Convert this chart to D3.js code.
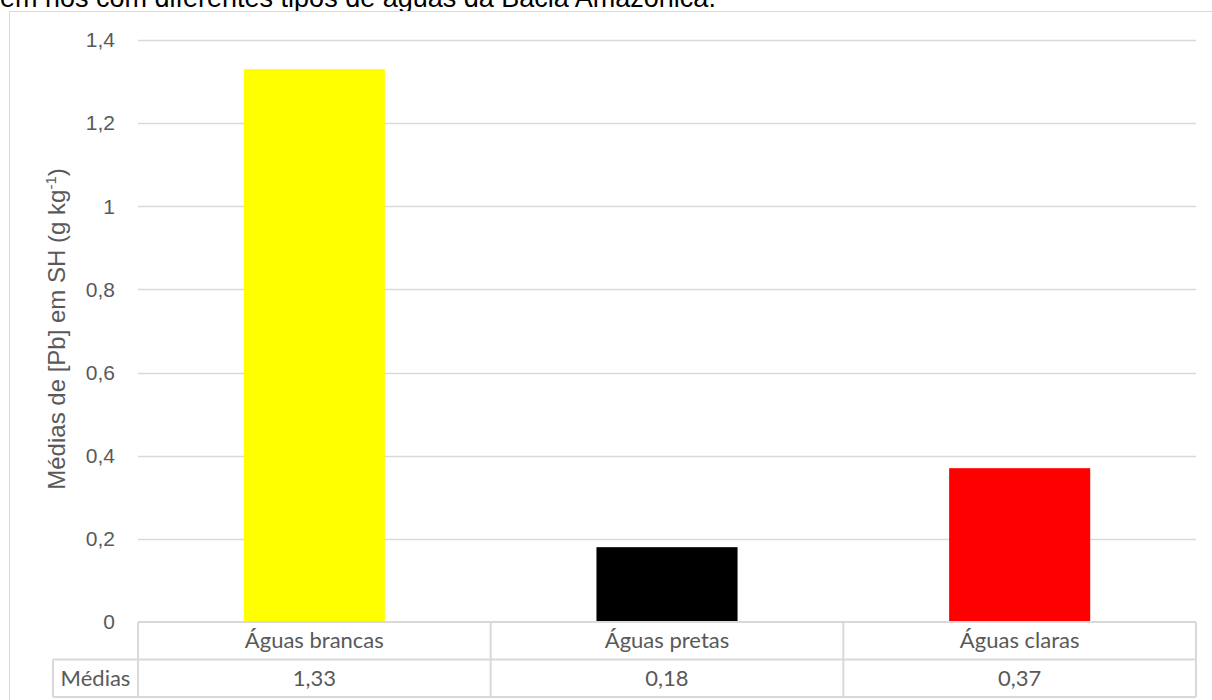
<!DOCTYPE html>
<html>
<head>
<meta charset="utf-8">
<script src="https://cdn.jsdelivr.net/npm/d3@7"></script>
<style>
  html, body { margin: 0; padding: 0; background: #fff; }
  svg { display: block; }
</style>
</head>
<body>
<svg id="chart" width="1212" height="700"></svg>
<script>
// Mean Pb concentration in humic substances by river water type
const categories = ["Águas brancas", "Águas pretas", "Águas claras"];
const values = [1.33, 0.18, 0.37];
const valueLabels = ["1,33", "0,18", "0,37"];
const barColors = ["#ffff00", "#000000", "#ff0000"];
const yTicks = [0, 0.2, 0.4, 0.6, 0.8, 1, 1.2, 1.4];
const yTickLabels = ["0", "0,2", "0,4", "0,6", "0,8", "1", "1,2", "1,4"];
const rowLabel = "Médias";
const caption = "em rios com diferentes tipos de águas da Bacia Amazônica.";

const svg = d3.select("#chart");
const gridColor = "#d9d9d9";
const textColor = "#595959";
const tableFont = "Lato, 'Open Sans', sans-serif";
const sansFont = "'Liberation Sans', Arial, sans-serif";

// caption line (cropped at the top edge)
svg.append("text")
  .attr("x", 0).attr("y", 7)
  .attr("font-family", sansFont)
  .attr("font-size", 27)
  .attr("fill", "#000")
  .text(caption);

// chart frame
svg.append("rect")
  .attr("x", 9.5).attr("y", 11.5)
  .attr("width", 1240).attr("height", 720)
  .attr("fill", "#fff")
  .attr("stroke", gridColor)
  .attr("stroke-width", 1);

const plot = { left: 138, right: 1196, top: 40, bottom: 622 };

const x = d3.scaleBand()
  .domain(categories)
  .range([plot.left, plot.right])
  .paddingInner(0)
  .paddingOuter(0);

const y = d3.scaleLinear()
  .domain([0, 1.4])
  .range([plot.bottom, plot.top]);

// horizontal gridlines
svg.append("g")
  .selectAll("line")
  .data(yTicks.filter(d => d > 0))
  .join("line")
  .attr("x1", plot.left).attr("x2", plot.right)
  .attr("y1", d => Math.round(y(d)) + 0.5)
  .attr("y2", d => Math.round(y(d)) + 0.5)
  .attr("stroke", gridColor)
  .attr("stroke-width", 1.5);

// y axis tick labels
const yAxis = d3.axisLeft(y)
  .tickValues(yTicks)
  .tickFormat((d, i) => yTickLabels[i])
  .tickSize(0)
  .tickPadding(23);
const yg = svg.append("g")
  .attr("transform", `translate(${plot.left},0)`)
  .call(yAxis);
yg.select(".domain").remove();
yg.selectAll("text")
  .attr("font-family", sansFont)
  .attr("font-size", 21)
  .attr("fill", textColor);

// y axis title
const yTitle = svg.append("text")
  .attr("transform", `translate(65,${(plot.top + plot.bottom) / 2 - 2}) rotate(-90)`)
  .attr("text-anchor", "middle")
  .attr("font-family", sansFont)
  .attr("font-size", 24)
  .attr("fill", textColor);
yTitle.append("tspan").text("Médias de [Pb] em SH (g kg");
yTitle.append("tspan").attr("dy", -9).attr("font-size", 15).text("-1");
yTitle.append("tspan").attr("dy", 9).text(")");

// bars
const barWidth = x.bandwidth() * 0.4;
svg.append("g")
  .selectAll("rect")
  .data(values)
  .join("rect")
  .attr("x", (d, i) => x(categories[i]) + (x.bandwidth() - barWidth) / 2)
  .attr("y", d => y(d))
  .attr("width", barWidth)
  .attr("height", d => y(0) - y(d))
  .attr("fill", (d, i) => barColors[i]);

// data table under the axis
const rowH = 37.5;
const tableTop = plot.bottom;
const labelLeft = 53;
const table = svg.append("g")
  .attr("stroke", gridColor)
  .attr("stroke-width", 2)
  .attr("fill", "none");

// horizontal rules
table.append("line")
  .attr("x1", plot.left).attr("x2", plot.right)
  .attr("y1", tableTop).attr("y2", tableTop);
table.append("line")
  .attr("x1", labelLeft).attr("x2", plot.right)
  .attr("y1", tableTop + rowH).attr("y2", tableTop + rowH);
table.append("line")
  .attr("x1", labelLeft).attr("x2", plot.right)
  .attr("y1", tableTop + 2 * rowH).attr("y2", tableTop + 2 * rowH);

// vertical rules
const colEdges = categories.map(c => x(c)).concat([plot.right]);
table.selectAll("line.col")
  .data(colEdges)
  .join("line")
  .attr("class", "col")
  .attr("x1", d => d).attr("x2", d => d)
  .attr("y1", tableTop).attr("y2", tableTop + 2 * rowH);
table.append("line")
  .attr("x1", labelLeft).attr("x2", labelLeft)
  .attr("y1", tableTop + rowH).attr("y2", tableTop + 2 * rowH);

// category names
svg.append("g")
  .selectAll("text")
  .data(categories)
  .join("text")
  .attr("x", d => x(d) + x.bandwidth() / 2)
  .attr("y", tableTop + rowH / 2)
  .attr("dy", "0.35em")
  .attr("text-anchor", "middle")
  .attr("font-family", tableFont)
  .attr("font-size", 22)
  .attr("fill", textColor)
  .text(d => d);

// value cells
svg.append("g")
  .selectAll("text")
  .data(valueLabels)
  .join("text")
  .attr("x", (d, i) => x(categories[i]) + x.bandwidth() / 2)
  .attr("y", tableTop + rowH * 1.5)
  .attr("dy", "0.35em")
  .attr("text-anchor", "middle")
  .attr("font-family", tableFont)
  .attr("font-size", 22)
  .attr("fill", textColor)
  .text(d => d);

svg.append("text")
  .attr("x", (labelLeft + plot.left) / 2)
  .attr("y", tableTop + rowH * 1.5)
  .attr("dy", "0.35em")
  .attr("text-anchor", "middle")
  .attr("font-family", tableFont)
  .attr("font-size", 22)
  .attr("fill", textColor)
  .text(rowLabel);
</script>
</body>
</html>
